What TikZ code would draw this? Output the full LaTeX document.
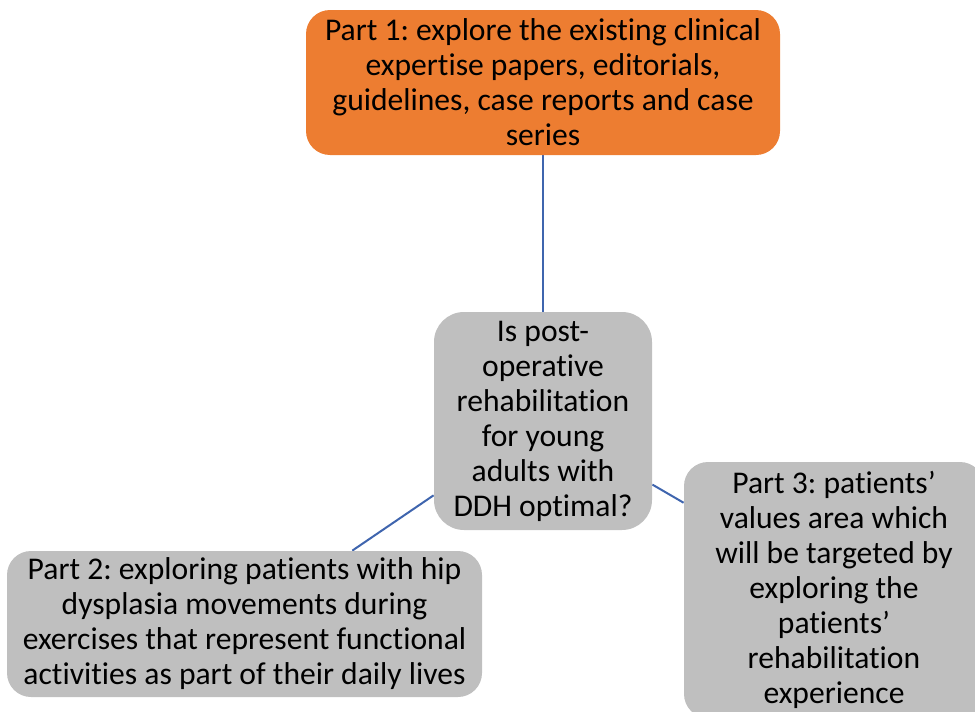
\documentclass[tikz,border=0pt]{standalone}
\usepackage{fontspec}
\setmainfont{Carlito}[Ligatures=NoCommon]
\frenchspacing
\usepackage{tikz}
\usetikzlibrary{backgrounds}
\definecolor{partorange}{HTML}{ED7D31}
\definecolor{partgrey}{HTML}{BFBFBF}
\definecolor{linkblue}{HTML}{3F65AE}
\tikzset{
  basebox/.style={rectangle,rounded corners=12pt,align=center,inner sep=0pt,
    font=\fontsize{15.8}{17.5}\selectfont,text=black},
  link/.style={line width=1pt,draw=linkblue}}

\begin{document}
\begin{tikzpicture}[x=0.5pt,y=-0.5pt,
  topic/.style={basebox,fill=partorange,minimum width=237pt,
    minimum height=72.5pt},
  part/.style={basebox,fill=partgrey},
  question/.style={basebox,fill=partgrey,rounded corners=15pt,
    minimum width=109pt,minimum height=109pt}]

  \useasboundingbox (0,0) rectangle (975,712);

  \node[topic] (pone) at (543,82.5)
    {Part 1: explore the existing clinical\\
     expertise papers, editorials,\\
     guidelines, case reports and case\\
     series};
  \node[question] (quest) at (543,421)
    {Is post-\\operative\\rehabilitation\\for young\\adults with\\DDH optimal?};
  \node[part,minimum width=237.5pt,minimum height=73pt] (ptwo) at (244.5,624)
    {Part 2: exploring patients with hip\\
     dysplasia movements during\\
     exercises that represent functional\\
     activities as part of their daily lives};
  \node[part,minimum width=150pt,minimum height=128pt] (pthree) at (834,590)
    {Part 3: patients’\\values area which\\will be targeted by\\exploring the\\
     patients’\\rehabilitation\\experience};

  \begin{scope}[on background layer]
  \draw[link] (pone) -- (quest);
  \draw[link] (quest) -- (ptwo);
  \draw[link] (quest) -- (pthree);
  \end{scope}
\end{tikzpicture}
\end{document}
